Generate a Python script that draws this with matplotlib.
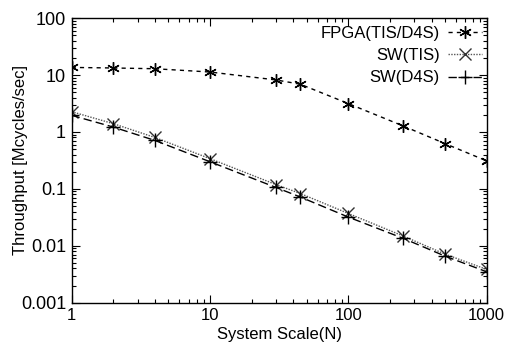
import matplotlib
matplotlib.use("Agg")
import matplotlib.pyplot as plt
from matplotlib.ticker import LogLocator, FixedLocator, FixedFormatter, NullFormatter

plt.rcParams['font.family'] = ['Liberation Sans', 'DejaVu Sans']

scale_n = [1, 2, 4, 10, 30, 45, 100, 250, 500, 1000]
fpga = [13.6, 13.3, 12.9, 11.3, 8.2, 6.9, 3.15, 1.27, 0.625, 0.31]
sw_tis = [2.27, 1.40, 0.80, 0.34, 0.119, 0.083, 0.037, 0.0148, 0.00714, 0.00385]
sw_d4s = [1.96, 1.22, 0.71, 0.30, 0.106, 0.072, 0.032, 0.0135, 0.0066, 0.0035]

xticks = [1, 10, 100, 1000]
xticklabels = ['1', '10', '100', '1000']
yticks = [0.001, 0.01, 0.1, 1, 10, 100]
yticklabels = ['0.001', '0.01', '0.1', '1', '10', '100']

FS = 12

fig = plt.figure(figsize=(5.15, 3.48), dpi=100)
ax = fig.add_axes([0.139, 0.130, 0.806, 0.818])

ax.plot(scale_n, fpga, color='black', linestyle=(0, (3, 3)), linewidth=1.0,
        marker=(6, 2, 0), markersize=9, markeredgewidth=1.0,
        label='FPGA(TIS/D4S)')
ax.plot(scale_n, sw_tis, color='#555555', linestyle=(0, (1, 1)), linewidth=1.0,
        marker='x', markersize=8, markeredgewidth=1.0, markeredgecolor='#333333',
        label='SW(TIS)')
ax.plot(scale_n, sw_d4s, color='black', linestyle=(0, (6, 3)), linewidth=1.0,
        marker='+', markersize=10, markeredgewidth=1.0,
        label='SW(D4S)')

ax.set_xscale('log')
ax.set_yscale('log')
ax.set_xlim(1, 1000)
ax.set_ylim(0.001, 100)

ax.xaxis.set_major_locator(FixedLocator(xticks))
ax.xaxis.set_major_formatter(FixedFormatter(xticklabels))
ax.yaxis.set_major_locator(FixedLocator(yticks))
ax.yaxis.set_major_formatter(FixedFormatter(yticklabels))
ax.xaxis.set_minor_locator(LogLocator(base=10, subs=range(2, 10)))
ax.yaxis.set_minor_locator(LogLocator(base=10, subs=range(2, 10)))
ax.xaxis.set_minor_formatter(NullFormatter())
ax.yaxis.set_minor_formatter(NullFormatter())

ax.tick_params(which='both', direction='in', top=True, right=True, width=0.8, pad=4)
ax.tick_params(axis='x', labelsize=FS)
ax.tick_params(axis='y', labelsize=13)
ax.tick_params(which='major', length=6)
ax.tick_params(which='minor', length=3)
for s in ax.spines.values():
    s.set_linewidth(1.0)

ax.set_xlabel('System Scale(N)', fontsize=FS, labelpad=3)
ax.set_ylabel('Throughput [Mcycles/sec]', fontsize=FS)
ax.yaxis.set_label_coords(-0.105, 0.5)

leg = ax.legend(loc='upper right', bbox_to_anchor=(0.936, 0.926), bbox_transform=fig.transFigure,
                frameon=False, markerfirst=False, fontsize=FS,
                handlelength=2.05, handletextpad=0.48, labelspacing=0.44,
                borderaxespad=0, borderpad=0, alignment='right')
for t in leg.get_texts():
    t.set_ha('right')

fig.savefig('out.png', dpi=100)
